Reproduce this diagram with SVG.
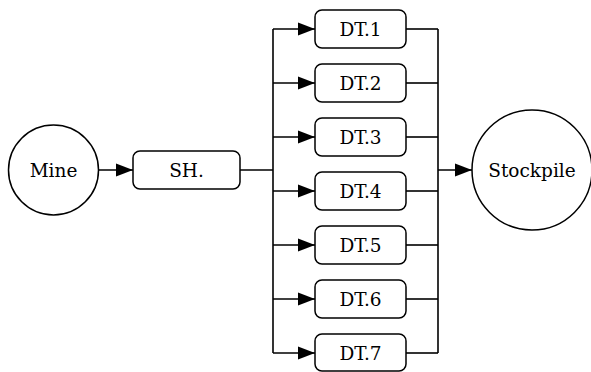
<svg xmlns="http://www.w3.org/2000/svg" width="591" height="372" viewBox="0 0 591 372">
<style>
.n{fill:#fff;stroke:#000;stroke-width:1.5}
.c{fill:none;stroke:#000;stroke-width:1.6}
.t{font-family:'DejaVu Serif','Liberation Serif',serif;font-size:18.5px;text-anchor:middle;fill:#000}
</style>
<defs>
<marker id="ah" markerWidth="17" markerHeight="14" refX="17" refY="7" orient="auto" markerUnits="userSpaceOnUse">
<path d="M0,0.5 L17,7 L0,13.5 Z" fill="#000"/>
</marker>
</defs>
<rect width="591" height="372" fill="#fff"/>
<g id="connectors">
<line class="c" x1="98.5" y1="170" x2="133" y2="170" marker-end="url(#ah)"/>
<line class="c" x1="240" y1="170" x2="273" y2="170"/>
<line class="c" x1="273" y1="29" x2="273" y2="353"/>
<line class="c" x1="273" y1="29" x2="315" y2="29" marker-end="url(#ah)"/>
<line class="c" x1="273" y1="83" x2="315" y2="83" marker-end="url(#ah)"/>
<line class="c" x1="273" y1="137" x2="315" y2="137" marker-end="url(#ah)"/>
<line class="c" x1="273" y1="191" x2="315" y2="191" marker-end="url(#ah)"/>
<line class="c" x1="273" y1="245" x2="315" y2="245" marker-end="url(#ah)"/>
<line class="c" x1="273" y1="299" x2="315" y2="299" marker-end="url(#ah)"/>
<line class="c" x1="273" y1="353" x2="315" y2="353" marker-end="url(#ah)"/>
<line class="c" x1="406" y1="29" x2="438" y2="29"/>
<line class="c" x1="406" y1="83" x2="438" y2="83"/>
<line class="c" x1="406" y1="137" x2="438" y2="137"/>
<line class="c" x1="406" y1="191" x2="438" y2="191"/>
<line class="c" x1="406" y1="245" x2="438" y2="245"/>
<line class="c" x1="406" y1="299" x2="438" y2="299"/>
<line class="c" x1="406" y1="353" x2="438" y2="353"/>
<line class="c" x1="438" y1="29" x2="438" y2="353"/>
<line class="c" x1="438" y1="170" x2="472" y2="170" marker-end="url(#ah)"/>
</g>
<g id="mine"><circle class="n" cx="53.5" cy="170" r="45"/><text class="t" x="53.5" y="176.5">Mine</text></g>
<g id="sh"><rect class="n" x="133" y="151" width="107" height="38" rx="7"/><text class="t" x="186.5" y="176.5">SH.</text></g>
<g id="dt1"><rect class="n" x="315" y="10" width="91" height="38" rx="7"/><text class="t" x="360.5" y="35.5">DT.1</text></g>
<g id="dt2"><rect class="n" x="315" y="64" width="91" height="38" rx="7"/><text class="t" x="360.5" y="89.5">DT.2</text></g>
<g id="dt3"><rect class="n" x="315" y="118" width="91" height="38" rx="7"/><text class="t" x="360.5" y="143.5">DT.3</text></g>
<g id="dt4"><rect class="n" x="315" y="172" width="91" height="38" rx="7"/><text class="t" x="360.5" y="197.5">DT.4</text></g>
<g id="dt5"><rect class="n" x="315" y="226" width="91" height="38" rx="7"/><text class="t" x="360.5" y="251.5">DT.5</text></g>
<g id="dt6"><rect class="n" x="315" y="280" width="91" height="38" rx="7"/><text class="t" x="360.5" y="305.5">DT.6</text></g>
<g id="dt7"><rect class="n" x="315" y="334" width="91" height="37" rx="7"/><text class="t" x="360.5" y="359.5">DT.7</text></g>
<g id="stockpile"><circle class="n" cx="532" cy="170" r="60"/><text class="t" x="532" y="176.5">Stockpile</text></g>
</svg>
